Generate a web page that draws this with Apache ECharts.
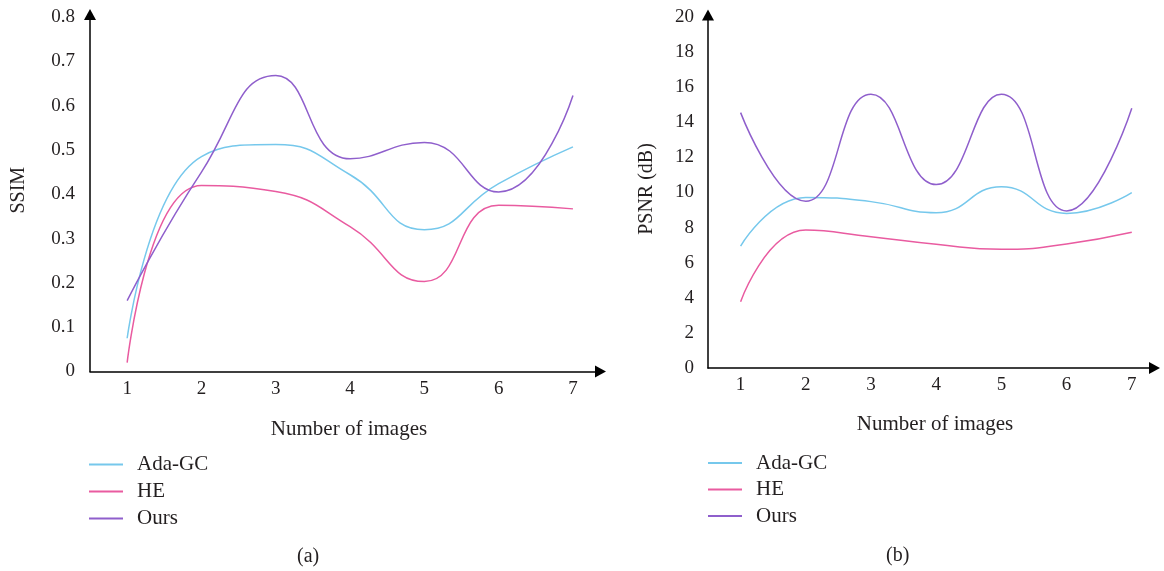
<!DOCTYPE html>
<html><head><meta charset="utf-8">
<script src="https://cdn.jsdelivr.net/npm/echarts@6/dist/echarts.min.js"></script>
<style>html,body{margin:0;padding:0;background:#fff}#c{width:1164px;height:571px}</style>
</head><body><div id="c"></div>
<script>
// ---- data ----
const categories = [1, 2, 3, 4, 5, 6, 7];
const seriesNames = ['Ada-GC', 'HE', 'Ours'];
const ssimAdaGC = [0.075, 0.485, 0.512, 0.444, 0.32, 0.424, 0.507];
const ssimHE    = [0.02, 0.42, 0.406, 0.327, 0.203, 0.375, 0.367];
const ssimOurs  = [0.16, 0.45, 0.668, 0.48, 0.517, 0.405, 0.623];
const psnrAdaGC = [6.95, 9.72, 9.48, 8.85, 10.33, 8.81, 9.99];
const psnrHE    = [3.78, 7.86, 7.48, 7.05, 6.76, 7.07, 7.73];
const psnrOurs  = [14.55, 9.5, 15.6, 10.45, 15.6, 8.95, 14.8];
const ssimTicks = [0, 0.1, 0.2, 0.3, 0.4, 0.5, 0.6, 0.7, 0.8];
const psnrTicks = [0, 2, 4, 6, 8, 10, 12, 14, 16, 18, 20];
const xTitle = 'Number of images';
const ssimTitle = 'SSIM';
const psnrTitle = 'PSNR (dB)';
const captions = ['(a)', '(b)'];

// ---- styles ----
const colors = ['#76c8ec', '#e95ba0', '#8f5fcc'];
const FONT = 'Liberation Serif';
const TXT = '#231f20';
const pairs = vals => categories.map((c, i) => [c, vals[i]]);

const axisLine = (off) => ({
  show: true,
  lineStyle: { color: '#000', width: 1.5 },
  symbol: ['none', 'triangle'],
  symbolSize: [12, 11],
  symbolOffset: [0, off]
});

const xAxisBase = (gi, nameGap, pad, off) => ({
  type: 'value', gridIndex: gi, min: 0.5, max: 7.31,
  axisLine: axisLine(off),
  axisTick: { show: false },
  splitLine: { show: false },
  axisLabel: { customValues: categories, color: TXT, fontFamily: FONT, fontSize: 19, margin: 8 },
  name: xTitle, nameLocation: 'middle', nameGap: nameGap,
  nameTextStyle: { color: TXT, fontFamily: FONT, fontSize: 21, padding: pad }
});

const legendBase = (left, top, gap) => ({
  left: left, top: top, orient: 'vertical', icon: 'rect', padding: 0,
  itemWidth: 34, itemHeight: 2, itemGap: gap,
  data: seriesNames, selectedMode: false,
  textStyle: { color: TXT, fontFamily: FONT, fontSize: 21, padding: [0, 0, 0, 9] }
});

const chart = echarts.init(document.getElementById('c'));
chart.setOption({
  backgroundColor: '#fff',
  animation: false,
  color: colors,
  grid: [
    { left: 90, top: 17, width: 506, height: 354.5 },
    { left: 708, top: 17, width: 444, height: 351 }
  ],
  xAxis: [
    xAxisBase(0, 47, [0, 0, 0, 12], 4.5),
    xAxisBase(1, 46, [0, 0, 0, 10], 2.5)
  ],
  yAxis: [
    {
      type: 'value', gridIndex: 0, min: ssimTicks[0], max: ssimTicks[ssimTicks.length - 1], interval: 0.1,
      axisLine: axisLine(2.5), axisTick: { show: false }, splitLine: { show: false },
      axisLabel: { color: TXT, fontFamily: FONT, fontSize: 19, margin: 15 },
      name: ssimTitle, nameLocation: 'middle', nameRotate: 90, nameGap: 61,
      nameTextStyle: { color: TXT, fontFamily: FONT, fontSize: 20, padding: [0, 0, 0, 8] }
    },
    {
      type: 'value', gridIndex: 1, min: psnrTicks[0], max: psnrTicks[psnrTicks.length - 1], interval: 2,
      axisLine: axisLine(2), axisTick: { show: false }, splitLine: { show: false },
      axisLabel: { color: TXT, fontFamily: FONT, fontSize: 19, margin: 14 },
      name: psnrTitle, nameLocation: 'middle', nameRotate: 90, nameGap: 51,
      nameTextStyle: { color: TXT, fontFamily: FONT, fontSize: 20, padding: [0, 0, 0, 7] }
    }
  ],
  legend: [
    legendBase(89, 454, 6),
    legendBase(708, 452.5, 5.5)
  ],
  graphic: [
    { type: 'text', left: 297, top: 547, style: { text: captions[0], fill: TXT, font: '20px "Liberation Serif"' } },
    { type: 'text', left: 886, top: 546, style: { text: captions[1], fill: TXT, font: '20px "Liberation Serif"' } }
  ],
  series: [
    { name: seriesNames[0], type: 'line', xAxisIndex: 0, yAxisIndex: 0, smooth: 0.5, symbol: 'none', lineStyle: { width: 1.5 }, data: pairs(ssimAdaGC) },
    { name: seriesNames[1], type: 'line', xAxisIndex: 0, yAxisIndex: 0, smooth: 0.5, symbol: 'none', lineStyle: { width: 1.5 }, data: pairs(ssimHE) },
    { name: seriesNames[2], type: 'line', xAxisIndex: 0, yAxisIndex: 0, smooth: 0.5, symbol: 'none', lineStyle: { width: 1.5 }, data: pairs(ssimOurs) },
    { name: seriesNames[0], type: 'line', xAxisIndex: 1, yAxisIndex: 1, smooth: 0.5, symbol: 'none', lineStyle: { width: 1.5 }, data: pairs(psnrAdaGC) },
    { name: seriesNames[1], type: 'line', xAxisIndex: 1, yAxisIndex: 1, smooth: 0.5, symbol: 'none', lineStyle: { width: 1.5 }, data: pairs(psnrHE) },
    { name: seriesNames[2], type: 'line', xAxisIndex: 1, yAxisIndex: 1, smooth: 0.5, symbol: 'none', lineStyle: { width: 1.5 }, data: pairs(psnrOurs) }
  ]
});
</script>
</body></html>
